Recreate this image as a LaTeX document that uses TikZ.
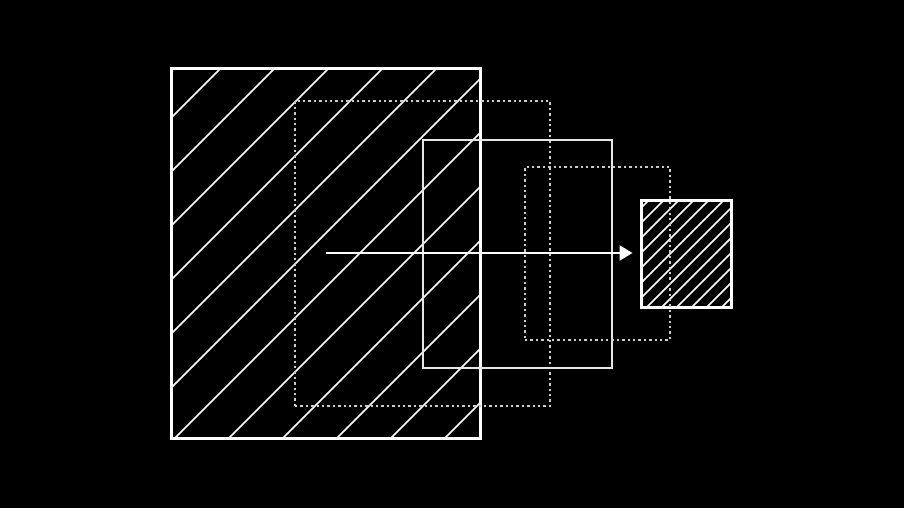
\documentclass[tikz,border=0pt]{standalone}
\usepackage{tikz}
\usetikzlibrary{arrows,arrows.meta}

\begin{document}
\begin{tikzpicture}[x=1pt,y=-1pt]
\tikzstyle{box}=[rectangle,draw=white,inner sep=0pt]
\tikzstyle{hatch}=[draw=white,line width=1.6pt]
\tikzstyle{dots}=[draw=white!80!black,line width=1.5pt,dash pattern=on 2.4pt off 3pt]
\fill[black] (0,0) rectangle (904,508);
\useasboundingbox (0,0) rectangle (904,508);
% big hatched square
\node[box,minimum width=309pt,minimum height=369pt] (big) at (325.5,253.5) {};
\begin{scope}
\clip (big.south west) rectangle (big.north east);
\foreach \k in {0,...,11}
	\draw[hatch] ({289+54*\k-460},460) -- ({289+54*\k-40},40);
\end{scope}
\node[box,line width=3pt,minimum width=309pt,minimum height=369pt] (big) at (325.5,253.5) {};
% frames in between
\node[box,dots,minimum width=255pt,minimum height=305pt] (f1) at (422.5,253.5) {};
\node[box,draw=white!90!black,line width=1.2pt,minimum width=189pt,minimum height=228pt] (f2) at (517.5,254) {};
% small hatched square
\node[box,minimum width=90pt,minimum height=107pt] (small) at (686,253.5) {};
\begin{scope}
\clip (small.south west) rectangle (small.north east);
\foreach \k in {0,...,12}
	\draw[hatch] ({849+15*\k-320},320) -- ({849+15*\k-190},190);
\end{scope}
\node[box,line width=3pt,minimum width=90pt,minimum height=107pt] (small) at (686,253.5) {};
\node[box,dots,minimum width=145pt,minimum height=173pt] (f3) at (597.5,253.5) {};
% arrow
\coordinate (src) at (326,253);
\draw[white,line width=2.4pt,-{Triangle[length=13pt,width=15pt]},shorten >=7pt] (src) -- (src -| small.west);
\end{tikzpicture}
\end{document}
